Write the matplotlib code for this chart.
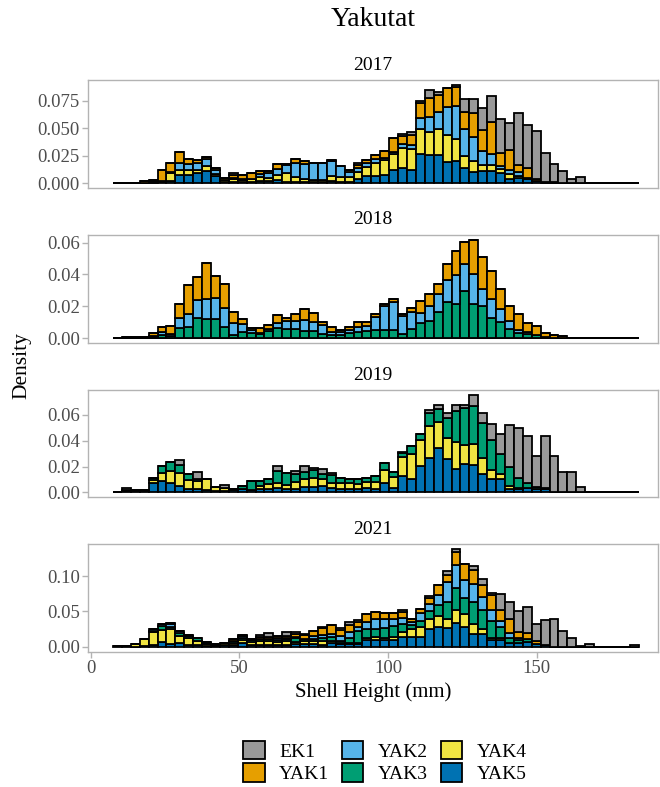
import numpy as np
import matplotlib
matplotlib.use("Agg")
import matplotlib.pyplot as plt
from matplotlib.patches import Patch

plt.rcParams['font.family'] = ['Liberation Serif', 'DejaVu Serif']

# bins: 59 bins of 3 mm starting at 7.4 mm
BIN_START = 7.4
BIN_WIDTH = 3.0
N_BINS = 59

groups = ["EK1", "YAK1", "YAK2", "YAK3", "YAK4", "YAK5"]
colors = {"EK1": "#999999", "YAK1": "#E69F00", "YAK2": "#56B4E9",
          "YAK3": "#009E73", "YAK4": "#F0E442", "YAK5": "#0072B2"}
years = ["2017", "2018", "2019", "2021"]

# ---- 2017 ----
ek1_2017 = [0, 0, 0, 0, 0, 0, 0, 0, 0, 0, 0, 0, 0, 0.0014, 0, 0, 0, 0, 0, 0,
            0, 0, 0, 0, 0, 0, 0, 0.0015, 0, 0, 0, 0, 0.001, 0.0033, 0.002, 0.0066, 0.0024, 0, 0.002, 0.0114,
            0.0126, 0.020, 0.0244, 0.0307, 0.0244, 0.047, 0.039, 0.043, 0.026, 0.0165, 0.0114, 0.0036, 0.0057, 0, 0, 0, 0, 0, 0]
yak1_2017 = [0, 0, 0, 0.002, 0.001, 0.010, 0.0081, 0.0096, 0.0042, 0.0024, 0.0015, 0.002, 0.0018, 0.003, 0.0035, 0.005, 0.0035, 0.002, 0.004, 0.0015,
             0.0036, 0.0027, 0, 0, 0.0012, 0, 0.0024, 0.0025, 0.0027, 0.0036, 0.0066, 0.0126, 0.0075, 0.0084, 0.0138, 0.018, 0.015, 0.0175, 0.0166, 0.0157,
             0.022, 0.019, 0.029, 0.012, 0.0187, 0.0066, 0.0084, 0.002, 0.0008, 0.0005, 0, 0, 0, 0, 0, 0, 0, 0, 0]
yak2_2017 = [0, 0, 0, 0, 0.001, 0, 0.0015, 0.0063, 0.006, 0.0066, 0.0066, 0.003, 0.0005, 0.001, 0.001, 0, 0.0025, 0.004, 0.006, 0.0075,
             0.013, 0.0135, 0.016, 0.0153, 0.0133, 0.0102, 0.004, 0.0036, 0.004, 0.0036, 0.002, 0.002, 0.0036, 0.0036, 0.0096, 0.0135, 0.0157, 0.026, 0.0307, 0.0247,
             0.022, 0.0135, 0.010, 0.003, 0.0036, 0.0036, 0.0005, 0, 0, 0, 0, 0, 0, 0, 0, 0, 0, 0, 0]
yak3_2017 = [0] * N_BINS
yak4_2017 = [0, 0, 0, 0, 0.001, 0.001, 0.0069, 0.0054, 0.0045, 0.0024, 0.0042, 0.002, 0.0015, 0.0024, 0.002, 0.003, 0.0036, 0.003, 0.0045, 0.0075,
             0.005, 0.0024, 0.002, 0.0024, 0.0045, 0.0042, 0.005, 0.007, 0.008, 0.012, 0.0135, 0.0144, 0.018, 0.019, 0.0226, 0.0205, 0.024, 0.024, 0.020, 0.0108,
             0.0096, 0.0054, 0.0054, 0.004, 0.0045, 0.0018, 0.0005, 0, 0, 0, 0, 0, 0, 0, 0, 0, 0, 0, 0]
yak5_2017 = [0.0008, 0.0008, 0.0003, 0, 0.0005, 0.0015, 0.0021, 0.0072, 0.0075, 0.0099, 0.0117, 0.0069, 0.0015, 0.0015, 0.001, 0.0013, 0.0021, 0.0021, 0.003, 0.0015,
             0.001, 0.0015, 0.001, 0.001, 0.0024, 0.0015, 0.001, 0.0036, 0.007, 0.007, 0.0075, 0.012, 0.0144, 0.0126, 0.027, 0.026, 0.0256, 0.0196, 0.020, 0.0141,
             0.0105, 0.011, 0.011, 0.009, 0.004, 0.005, 0.0043, 0.0024, 0.0007, 0.0005, 0, 0, 0, 0, 0, 0, 0, 0, 0]

# ---- 2018 ----
ek1_2018 = [0] * N_BINS
yak1_2018 = [0.0003, 0.0004, 0.0005, 0.0006, 0.0015, 0.0035, 0.0054, 0.0092, 0.0179, 0.0144, 0.0229, 0.0141, 0.015, 0.0065, 0.0033, 0.001, 0.0031, 0.0027, 0.0052, 0.0015,
             0.0042, 0.0067, 0.0052, 0.0017, 0.0027, 0.0015, 0.0019, 0.0035, 0.0021, 0.0015, 0.001, 0.0015, 0.0017, 0.0029, 0.0079, 0.0075, 0.0062, 0.010, 0.0148, 0.0139,
             0.0212, 0.0204, 0.0177, 0.0125, 0.0092, 0.0098, 0.006, 0.0056, 0.0025, 0.0022, 0.0015, 0.0002, 0.0003, 0, 0, 0, 0, 0, 0]
yak2_2018 = [0, 0, 0, 0, 0.001, 0.002, 0.001, 0.0062, 0.0083, 0.0117, 0.0129, 0.0129, 0.0125, 0.0077, 0.0052, 0.0023, 0.001, 0.001, 0.0031, 0.0052,
             0.0054, 0.0069, 0.0062, 0.0058, 0.002, 0.002, 0.0017, 0.0031, 0.0037, 0.0083, 0.0152, 0.0177, 0.0112, 0.0104, 0.0062, 0.0094, 0.0114, 0.0135, 0.0185, 0.0173,
             0.0193, 0.0104, 0.0114, 0.0083, 0.0054, 0.0017, 0.0012, 0, 0.0003, 0, 0, 0, 0, 0, 0, 0, 0, 0, 0]
yak3_2018 = [0, 0, 0, 0, 0.0005, 0.0017, 0.0015, 0.0062, 0.0069, 0.0125, 0.0117, 0.012, 0.0067, 0.002, 0.0037, 0.003, 0.0025, 0.0046, 0.0062, 0.0058,
             0.0054, 0.0046, 0.0042, 0.0025, 0.002, 0.0017, 0.0031, 0.0037, 0.0042, 0.0052, 0.0052, 0.0052, 0.0025, 0.0058, 0.0094, 0.0108, 0.0166, 0.0229, 0.0214, 0.0295,
             0.0212, 0.0202, 0.0129, 0.010, 0.0056, 0.0035, 0.0025, 0.002, 0.0003, 0, 0, 0, 0, 0, 0, 0, 0, 0, 0]
yak4_2018 = [0] * N_BINS
yak5_2018 = [0] * N_BINS

# ---- 2019 ----
ek1_2019 = [0, 0.0018, 0, 0, 0, 0, 0, 0.0033, 0, 0.0053, 0, 0, 0.0025, 0, 0, 0, 0, 0, 0.0043, 0,
            0.0018, 0.0046, 0.002, 0.0043, 0.002, 0, 0, 0, 0, 0, 0, 0, 0.001, 0, 0, 0.0028, 0.003, 0.0038, 0.0043, 0.0028,
            0.0083, 0.0076, 0.0121, 0.0154, 0.0321, 0.0387, 0.0367, 0.024, 0.040, 0.0283, 0.0157, 0.0157, 0.0043, 0, 0, 0, 0, 0, 0]
yak1_2019 = [0] * N_BINS
yak2_2019 = [0] * N_BINS
yak3_2019 = [0, 0, 0.0006, 0, 0.002, 0.005, 0.0068, 0.0063, 0.0048, 0.0018, 0, 0, 0, 0, 0.0016, 0.0066, 0.0038, 0.0043, 0.0094, 0.0096,
             0.0066, 0.0056, 0.0056, 0.0033, 0.0061, 0.0038, 0.0035, 0.0043, 0.0033, 0.0046, 0.005, 0.0036, 0.0032, 0.0063, 0.005, 0.0101, 0.0101, 0.0159, 0.024, 0.0283,
             0.0299, 0.0273, 0.0228, 0.0152, 0.0147, 0.0076, 0.0033, 0.0018, 0.0013, 0, 0, 0, 0, 0, 0, 0, 0, 0, 0]
yak4_2019 = [0, 0.0007, 0, 0.0008, 0.0025, 0.0063, 0.0094, 0.0101, 0.0066, 0.0063, 0.0083, 0.003, 0.0018, 0.0015, 0, 0, 0.0025, 0.0033, 0.0033, 0.0025,
             0.005, 0.0058, 0.0071, 0.0056, 0.0038, 0.0046, 0.004, 0.0033, 0.0043, 0.005, 0.0101, 0.0083, 0.0147, 0.0192, 0.0197, 0.0245, 0.0202, 0.0159, 0.021, 0.0144,
             0.0157, 0.0121, 0.0071, 0.0043, 0.002, 0.0008, 0.0005, 0, 0, 0, 0, 0, 0, 0, 0, 0, 0, 0, 0]
yak5_2019 = [0.0005, 0.0008, 0.0014, 0.001, 0.007, 0.0089, 0.0071, 0.005, 0.003, 0.0025, 0.0018, 0.0013, 0.0013, 0.0015, 0.003, 0.002, 0.0025, 0.003, 0.0038, 0.003,
             0.003, 0.0043, 0.0043, 0.005, 0.0033, 0.003, 0.003, 0.003, 0.0038, 0.003, 0.0076, 0.0038, 0.0127, 0.0106, 0.0207, 0.0266, 0.0342, 0.0258, 0.0182, 0.0223,
             0.0215, 0.0144, 0.0106, 0.0101, 0.003, 0.003, 0.0033, 0.0025, 0.0025, 0, 0, 0, 0, 0, 0, 0, 0, 0, 0]

# ---- 2021 ----
ek1_2021 = [0, 0, 0, 0, 0, 0, 0, 0, 0, 0, 0, 0, 0, 0, 0, 0, 0.003, 0.0056, 0, 0.006,
            0.002, 0.0018, 0, 0.002, 0, 0.0037, 0.0046, 0.0023, 0, 0, 0, 0, 0.002, 0, 0, 0.0028, 0, 0.0046, 0.0037, 0,
            0.0069, 0.0074, 0.0032, 0.0222, 0.0232, 0.0296, 0.037, 0.0241, 0.0361, 0.0398, 0.0222, 0.012, 0.001, 0.0046, 0, 0, 0, 0, 0.0023]
yak1_2021 = [0, 0, 0, 0, 0, 0, 0.002, 0, 0, 0, 0, 0, 0, 0.003, 0.002, 0.002, 0.002, 0.002, 0.003, 0.0025,
             0.004, 0.006, 0.007, 0.0102, 0.013, 0.0079, 0.0093, 0.0083, 0.0111, 0.0093, 0.0079, 0.008, 0.0083, 0.0051, 0.0056, 0.0093, 0.0139, 0.0111, 0.0185, 0.0232,
             0.0185, 0.0171, 0.0208, 0.0162, 0.0199, 0.0093, 0.0093, 0.0037, 0, 0, 0, 0, 0, 0, 0, 0, 0, 0, 0]
yak2_2021 = [0, 0, 0, 0, 0.002, 0.002, 0.003, 0.002, 0.001, 0, 0.001, 0, 0, 0, 0.002, 0, 0.001, 0.001, 0.002, 0.001,
             0.002, 0, 0.004, 0.004, 0.004, 0.0069, 0.0083, 0.0046, 0.0106, 0.0153, 0.013, 0.010, 0.0083, 0.0042, 0.0116, 0.0102, 0.0148, 0.0278, 0.0324, 0.0255,
             0.0255, 0.0185, 0.0153, 0.0083, 0.0079, 0.003, 0, 0, 0, 0, 0, 0, 0, 0, 0, 0, 0, 0, 0]
yak3_2021 = [0, 0, 0, 0, 0.002, 0.0063, 0.004, 0.005, 0.003, 0.004, 0.002, 0.001, 0, 0.002, 0.003, 0.003, 0.002, 0.002, 0.004, 0.004,
             0.005, 0.002, 0.003, 0.0037, 0.005, 0.003, 0.007, 0.0171, 0.0125, 0.0106, 0.014, 0.016, 0.0115, 0.006, 0.0083, 0.0102, 0.0153, 0.0232, 0.031, 0.0222,
             0.0315, 0.0278, 0.0241, 0.0157, 0.006, 0.003, 0.003, 0, 0, 0, 0, 0, 0, 0, 0, 0, 0, 0, 0]
yak4_2021 = [0, 0, 0.0037, 0.009, 0.0175, 0.0162, 0.020, 0.0102, 0.0093, 0.005, 0.002, 0.001, 0.0035, 0.003, 0.0037, 0.004, 0.0056, 0.0056, 0.004, 0.0046,
             0.003, 0.0046, 0.0046, 0.0056, 0.003, 0.002, 0.0023, 0.002, 0.0028, 0.0046, 0.003, 0.004, 0.0075, 0.0106, 0.0139, 0.0153, 0.0153, 0.013, 0.0185, 0.0185,
             0.0139, 0.0069, 0.0037, 0.0028, 0, 0, 0, 0, 0, 0, 0, 0, 0, 0, 0, 0, 0, 0, 0]
yak5_2021 = [0.0005, 0.0005, 0, 0.0015, 0.003, 0.0075, 0.0046, 0.0048, 0.003, 0.003, 0.0016, 0.0018, 0.0025, 0.0026, 0.006, 0.0026, 0.0028, 0.0028, 0.0023, 0.003,
             0.0044, 0.004, 0.0037, 0.003, 0.0056, 0.0034, 0.0037, 0.0037, 0.0093, 0.0093, 0.0098, 0.0092, 0.0139, 0.0139, 0.0139, 0.0245, 0.0278, 0.0269, 0.0338, 0.0278,
             0.0185, 0.0176, 0.0093, 0.0093, 0.006, 0.006, 0.0075, 0.0046, 0.0023, 0, 0, 0, 0, 0, 0, 0, 0, 0, 0]

data = {
    "2017": [ek1_2017, yak1_2017, yak2_2017, yak3_2017, yak4_2017, yak5_2017],
    "2018": [ek1_2018, yak1_2018, yak2_2018, yak3_2018, yak4_2018, yak5_2018],
    "2019": [ek1_2019, yak1_2019, yak2_2019, yak3_2019, yak4_2019, yak5_2019],
    "2021": [ek1_2021, yak1_2021, yak2_2021, yak3_2021, yak4_2021, yak5_2021],
}
yticks = {"2017": ([0, 0.025, 0.05, 0.075], "{:.3f}"),
          "2018": ([0, 0.02, 0.04, 0.06], "{:.2f}"),
          "2019": ([0, 0.02, 0.04, 0.06], "{:.2f}"),
          "2021": ([0, 0.05, 0.10], "{:.2f}")}

W, H = 660, 787
fig = plt.figure(figsize=(W / 100, H / 100), dpi=100)

# panel boxes in pixels (top, bottom)
left_px, right_px = 88.3, 658
panels_px = [(80.3, 188.3), (235, 343), (390, 497.3), (544.3, 651.7)]

grey_line = "#B3B3B3"
tick_col = "#4D4D4D"
edges = BIN_START + BIN_WIDTH * np.arange(N_BINS)

for k, yr in enumerate(years):
    top, bot = panels_px[k]
    ax = fig.add_axes([left_px / W, 1 - bot / H, (right_px - left_px) / W, (bot - top) / H])
    bottom = np.zeros(N_BINS)
    # stack from bottom (YAK5) to top (EK1)
    for g, vals in reversed(list(zip(groups, data[yr]))):
        vals = np.array(vals, dtype=float)
        ax.bar(edges, vals, width=BIN_WIDTH, align="edge", bottom=bottom,
               color=colors[g], edgecolor="black", linewidth=1.3)
        bottom = bottom + vals
    ymax = bottom.max()
    ax.set_ylim(-0.05 * ymax, 1.05 * ymax)
    ax.set_xlim(-0.9, 190.9)
    ticks, fmt = yticks[yr]
    ax.set_yticks(ticks)
    ax.set_yticklabels([fmt.format(t) for t in ticks])
    for s in ax.spines.values():
        s.set_color(grey_line)
        s.set_linewidth(1.0)
    ax.tick_params(axis="both", colors=grey_line, labelcolor=tick_col,
                   labelsize=13.5, length=4, width=1.0, pad=2)
    if k == len(years) - 1:
        ax.set_xticks([0, 50, 100, 150])
        ax.set_xticklabels(["0", "50", "100", "150"])
    else:
        ax.set_xticks([])
    fig.text((left_px + right_px) / 2 / W, 1 - (top - 15) / H, yr,
             ha="center", va="center", fontsize=14)

fig.text((left_px + right_px) / 2 / W, 1 - 20 / H, "Yakutat",
         ha="center", va="center", fontsize=20)
fig.text((left_px + right_px) / 2 / W, 1 - 692 / H, "Shell Height (mm)",
         ha="center", va="center", fontsize=15)
fig.text(22 / W, 1 - 366 / H, "Density", ha="center", va="center",
         rotation=90, fontsize=15.5)

handles = [Patch(facecolor=colors[g], edgecolor="black", linewidth=1.3, label=g) for g in groups]
fig.legend(handles=handles, ncol=3, loc="center", bbox_to_anchor=(385 / W, 1 - 762 / H),
           frameon=False, fontsize=14, handlelength=1.1, handleheight=1.1,
           handletextpad=0.75, columnspacing=0.65, labelspacing=0.15, borderpad=0)

fig.savefig("out.png", dpi=100)
